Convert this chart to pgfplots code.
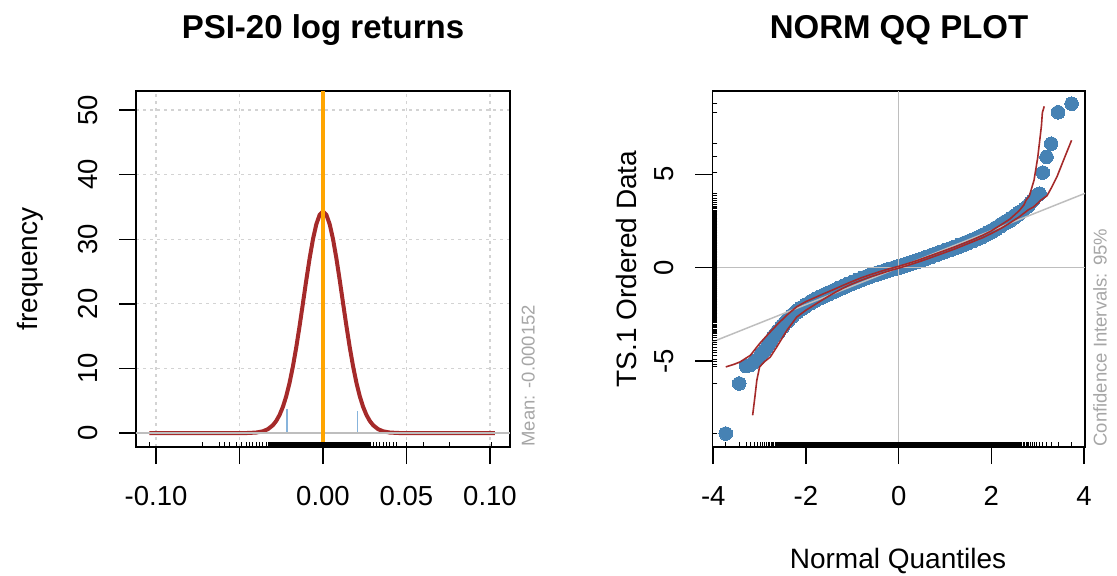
\documentclass[border=0pt]{standalone}
\usepackage{fontspec}
\setmainfont{Liberation Sans}
\usepackage{pgfplots}
\pgfplotsset{compat=1.18}
\usepackage{pgfplotstable}

\definecolor{steelblue}{HTML}{4682B4}
\definecolor{curvered}{HTML}{A52A2A}
\definecolor{meanorange}{HTML}{FFA500}
\definecolor{refgray}{HTML}{BEBEBE}
\definecolor{gridgray}{HTML}{D3D3D3}
\definecolor{histblue}{HTML}{87B4DC}
\definecolor{notegray}{HTML}{A6A6A6}

% fitted normal density of the log returns
\pgfplotstableread{
x y
-0.104 0
-0.050 0
-0.045 0.02
-0.040 0.09
-0.036 0.28
-0.033 0.61
-0.030 1.23
-0.028 1.89
-0.026 2.82
-0.024 4.08
-0.022 5.73
-0.020 7.82
-0.018 10.35
-0.016 13.31
-0.014 16.62
-0.012 20.14
-0.010 23.70
-0.008 27.07
-0.006 30.03
-0.004 32.33
-0.002 33.80
0.000 34.30
0.002 33.80
0.004 32.33
0.006 30.03
0.008 27.07
0.010 23.70
0.012 20.14
0.014 16.62
0.016 13.31
0.018 10.35
0.020 7.82
0.022 5.73
0.024 4.08
0.026 2.82
0.028 1.89
0.030 1.23
0.033 0.61
0.036 0.28
0.040 0.09
0.045 0.02
0.050 0
0.103 0
}\densitytab

% histogram bars
\pgfplotstableread{
x y
-0.0216 3.8
0.0206 3.4
}\histtab

% returns, outer observations (rug row at y = -1.78)
\pgfplotstableread{
x r
-0.104 -1.78
-0.072 -1.78
-0.062 -1.78
-0.059 -1.78
-0.056 -1.78
-0.052 -1.78
-0.049 -1.78
-0.046 -1.78
-0.044 -1.78
-0.042 -1.78
-0.040 -1.78
-0.038 -1.78
-0.036 -1.78
-0.034 -1.78
0.030 -1.78
0.032 -1.78
0.034 -1.78
0.036 -1.78
0.038 -1.78
0.040 -1.78
0.042 -1.78
0.044 -1.78
0.050 -1.78
0.060 -1.78
0.076 -1.78
0.101 -1.78
}\rugout

% returns, central observations
\pgfplotstableread{
x r
-0.032 -1.78
-0.030 -1.78
-0.028 -1.78
-0.026 -1.78
-0.024 -1.78
-0.022 -1.78
-0.020 -1.78
-0.018 -1.78
-0.016 -1.78
-0.014 -1.78
-0.012 -1.78
-0.010 -1.78
-0.008 -1.78
-0.006 -1.78
-0.004 -1.78
-0.002 -1.78
0.000 -1.78
0.002 -1.78
0.004 -1.78
0.006 -1.78
0.008 -1.78
0.010 -1.78
0.012 -1.78
0.014 -1.78
0.016 -1.78
0.018 -1.78
0.020 -1.78
0.022 -1.78
0.024 -1.78
0.026 -1.78
0.028 -1.78
}\rugin

% normal quantiles vs ordered data, central part
\pgfplotstableread{
x y
-2.6 -3.42
-2.5 -3.12
-2.4 -2.84
-2.3 -2.58
-2.2 -2.36
-2.1 -2.18
-2.0 -2.02
-1.9 -1.87
-1.8 -1.73
-1.7 -1.60
-1.6 -1.48
-1.5 -1.37
-1.4 -1.26
-1.3 -1.14
-1.2 -1.03
-1.1 -0.92
-1.0 -0.82
-0.9 -0.71
-0.8 -0.61
-0.7 -0.52
-0.6 -0.43
-0.5 -0.35
-0.4 -0.27
-0.3 -0.19
-0.2 -0.11
-0.1 -0.04
0.0 0.03
0.1 0.11
0.2 0.19
0.3 0.27
0.4 0.35
0.5 0.44
0.6 0.53
0.7 0.62
0.8 0.71
0.9 0.80
1.0 0.89
1.1 0.98
1.2 1.07
1.3 1.16
1.4 1.26
1.5 1.36
1.6 1.46
1.7 1.57
1.8 1.69
1.9 1.81
2.0 1.95
2.1 2.10
2.2 2.26
2.3 2.42
2.4 2.56
2.5 2.74
2.6 2.92
}\qqmid

% normal quantiles vs ordered data, tails
\pgfplotstableread{
x y
-3.73 -8.89
-3.44 -6.21
-3.29 -5.28
-3.19 -5.20
-3.11 -5.05
-3.04 -4.90
-2.98 -4.70
-2.93 -4.55
-2.89 -4.42
-2.85 -4.30
-2.81 -4.14
-2.78 -4.00
-2.75 -3.88
-2.72 -3.76
-2.69 -3.65
-2.66 -3.55
2.66 3.02
2.69 3.08
2.72 3.15
2.75 3.22
2.78 3.30
2.81 3.37
2.85 3.48
2.89 3.60
2.93 3.72
2.98 3.87
3.04 3.96
3.11 5.09
3.19 5.93
3.29 6.64
3.44 8.32
3.73 8.78
}\qqtail

% 95% confidence band, upper limit
\pgfplotstableread{
x y
-3.73 -5.32
-3.55 -5.18
-3.42 -5.05
-3.20 -4.70
-3.00 -4.07
-2.80 -3.52
-2.60 -3.00
-2.40 -2.52
-2.20 -2.10
-2.00 -1.82
-1.80 -1.60
-1.60 -1.38
-1.40 -1.17
-1.20 -0.95
-1.00 -0.74
-0.80 -0.54
-0.60 -0.37
-0.40 -0.21
-0.20 -0.06
0.00 0.07
0.20 0.22
0.40 0.38
0.60 0.56
0.80 0.74
1.00 0.92
1.20 1.10
1.40 1.30
1.60 1.50
1.80 1.72
2.00 1.97
2.20 2.28
2.40 2.60
2.60 3.05
2.70 3.35
2.75 3.62
2.82 3.85
2.92 4.68
3.00 5.90
3.08 7.60
3.10 8.30
3.14 8.64
}\ciup

% 95% confidence band, lower limit
\pgfplotstableread{
x y
-3.15 -7.91
-3.10 -6.90
-3.06 -6.04
-3.00 -5.32
-2.90 -5.05
-2.77 -4.79
-2.63 -4.25
-2.41 -3.36
-2.20 -2.65
-2.00 -2.28
-1.80 -1.97
-1.60 -1.66
-1.40 -1.37
-1.20 -1.10
-1.00 -0.87
-0.80 -0.67
-0.60 -0.49
-0.40 -0.33
-0.20 -0.17
0.00 -0.03
0.20 0.12
0.40 0.28
0.60 0.45
0.80 0.63
1.00 0.81
1.20 0.99
1.40 1.19
1.60 1.39
1.80 1.59
2.00 1.83
2.20 2.09
2.40 2.39
2.60 2.72
2.80 3.10
2.91 3.25
3.00 3.45
3.07 3.62
3.20 3.85
3.30 4.30
3.42 4.90
3.58 5.90
3.73 6.82
}\cilow

\newcommand{\tickfont}{\fontsize{13.75}{16}\selectfont}
\newcommand{\labfont}{\fontsize{14}{16}\selectfont}
\newcommand{\titfont}{\bfseries\fontsize{16.5}{19}\selectfont}
\newcommand{\notefont}{\fontsize{9.25}{11}\selectfont}

\pgfplotsset{
  rstyle/.style={
    scale only axis,
    anchor=south west,
    axis line style={black, line width=0.75pt},
    tick align=outside,
    xtick pos=left, ytick pos=left,
    major tick length=8.5pt,
    tick style={black, line width=0.75pt},
    xticklabel style={font=\tickfont, anchor=base, yshift=-20.5pt},
    yticklabel style={font=\tickfont, xshift=-11pt, rotate=90, anchor=base},
    clip=true,
    clip marker paths=true,
  },
}

\begin{document}
\begin{tikzpicture}
\path[use as bounding box] (0,0) rectangle (558.5pt,287.5pt);

% ---------- histogram panel ----------
\begin{axis}[rstyle,
  at={(68pt,64pt)}, width=187pt, height=178pt,
  xmin=-0.112, xmax=0.112, ymin=-2.15, ymax=52.95,
  xtick={-0.1,-0.05,0,0.05,0.1},
  xticklabels={-0.10,,0.00,0.05,0.10},
  ytick={0,10,20,30,40,50},
  yticklabels={0,10,20,30,40,50},
  grid=major,
  grid style={gridgray, line width=0.6pt, dash pattern=on 1.5pt off 2pt},
]
\addplot[histblue, line width=0.8pt, ycomb, mark=none] table[x=x, y=y] {\histtab};
\addplot[curvered, line width=2pt, mark=none] table[x=x, y=y] {\densitytab};
\addplot[refgray, line width=0.75pt, mark=none] coordinates {(-0.112,0) (0.112,0)};
\addplot[meanorange, line width=2pt, mark=none] coordinates {(-0.000152,-2.15) (-0.000152,52.95)};
\addplot[black, only marks, mark=|, mark size=1.25pt, mark options={line width=0.5pt}] table[x=x, y=r] {\rugout};
\addplot[black, only marks, mark=|, mark size=1.25pt, mark options={line width=1.7pt}] table[x=x, y=r] {\rugin};
\end{axis}

% ---------- normal QQ panel ----------
\begin{axis}[rstyle,
  at={(356.15pt,64pt)}, width=186.35pt, height=178pt,
  xmin=-4.02, xmax=4.02, ymin=-9.61, ymax=9.46,
  xtick={-4,-2,0,2,4},
  xticklabels={-4,-2,0,2,4},
  ytick={-5,0,5},
  yticklabels={-5,0,5},
]
\addplot[steelblue, only marks, mark=*, mark size=3.8pt, mark options={fill=steelblue, draw=steelblue, line width=0pt}] table[x=x, y=y] {\qqmid};
\addplot[steelblue, only marks, mark=*, mark size=3.4pt, mark options={fill=steelblue, draw=steelblue, line width=0pt}] table[x=x, y=y] {\qqtail};
\addplot[refgray, line width=0.75pt, mark=none] coordinates {(-4.02,0) (4.02,0)};
\addplot[refgray, line width=0.75pt, mark=none] coordinates {(0,-9.61) (0,9.46)};
\addplot[refgray, line width=0.75pt, mark=none] coordinates {(-4.02,-3.98) (4.02,3.98)};
\addplot[curvered, line width=0.8pt, mark=none] table[x=x, y=y] {\ciup};
\addplot[curvered, line width=0.8pt, mark=none] table[x=x, y=y] {\cilow};
% rugs along both axes
\addplot[black, only marks, mark=|, mark size=1.25pt, mark options={line width=2.4pt}] table[x=x, y expr=-9.48] {\qqmid};
\addplot[black, only marks, mark=|, mark size=1.25pt, mark options={line width=0.5pt}] table[x=x, y expr=-9.48] {\qqtail};
\addplot[black, only marks, mark=-, mark size=1.25pt, mark options={line width=2.2pt}] table[x expr=-3.963, y=y] {\qqmid};
\addplot[black, only marks, mark=-, mark size=1.25pt, mark options={line width=0.5pt}] table[x expr=-3.963, y=y] {\qqtail};
\end{axis}

% titles, axis labels and side notes
\node[anchor=base, font=\titfont, inner sep=0pt] at (161.5pt,268.2pt) {PSI-20 log returns};
\node[anchor=base, font=\titfont, inner sep=0pt] at (449.5pt,268.2pt) {NORM QQ PLOT};
\node[rotate=90, anchor=base, font=\labfont, inner sep=0pt] at (18.5pt,153pt) {frequency};
\node[rotate=90, anchor=base, font=\labfont, inner sep=0pt] at (318pt,153pt) {TS.1 Ordered Data};
\node[anchor=base, font=\labfont, inner sep=0pt] at (449pt,3.4pt) {Normal Quantiles};
\node[rotate=90, anchor=base west, font=\notefont, text=notegray, inner sep=0pt] at (267.25pt,64pt) {Mean: -0.000152};
\node[rotate=90, anchor=base west, font=\notefont, text=notegray, inner sep=0pt] at (553.25pt,64pt) {Confidence Intervals: 95\%};
\end{tikzpicture}
\end{document}
